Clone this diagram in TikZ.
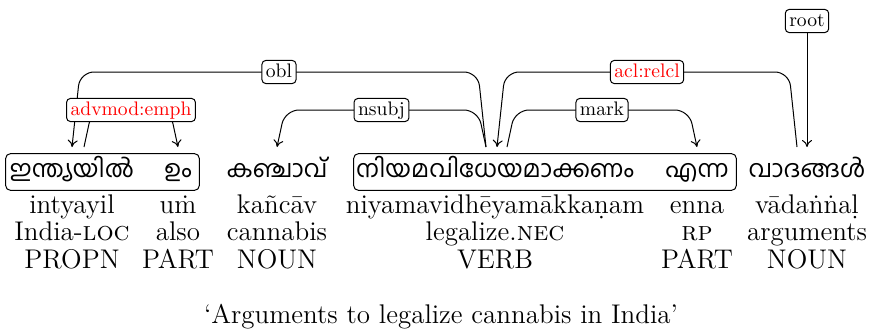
\documentclass[tikz,border=0pt]{standalone}
\usepackage{fontspec}
\newfontfamily\mlfont[Script=Malayalam]{Hind Kochi}
\usetikzlibrary{calc,fit,arrows.meta}
% m with dot above, built from m and the spacing dot accent
\newcommand{\mdotabove}{\ooalign{m\cr\hidewidth\char"02D9\hidewidth\cr}}

\begin{document}
\begin{tikzpicture}[x=0.5pt,y=-0.5pt,
  every node/.style={font=\fontsize{13.5}{16}\selectfont},
  ml/.style={anchor=base, font=\mlfont\fontsize{12}{15}\selectfont,
    text height=9.5pt, text depth=4.5pt, inner xsep=0pt, inner ysep=2pt},
  tok/.style={anchor=base, inner sep=0pt},
  wbox/.style={draw, rounded corners=2.5pt, inner sep=0pt, line width=0.5pt},
  lbl/.style={draw, fill=white, rounded corners=2pt, inner xsep=2pt, inner ysep=1.3pt,
    text height=7pt, text depth=2pt, font=\fontsize{9.8}{11}\selectfont, line width=0.5pt},
  rel/.style={lbl, text=red},
  depedge/.style={draw, line width=0.5pt, rounded corners=7pt,
    -{To[length=3.5pt,width=5pt]}},
  ]
\useasboundingbox (0,0) rectangle (873,332);

% Malayalam tokens
\node[ml, minimum width=66pt] (m1) at (72,177)  {ഇന്ത്യയിൽ};
\node[ml, minimum width=21pt] (m2) at (178,177) {ഉം};
\node[ml] (m3) at (277,177) {കഞ്ചാവ്};
\node[ml, minimum width=141pt] (m4) at (495,177) {നിയമവിധേയമാക്കണം};
\node[ml, minimum width=39pt] (m5) at (697,177) {എന്ന};
\node[ml] (m6) at (807,177) {വാദങ്ങൾ};

% grouped words
\node[wbox, fit=(m1)(m2)] (box1) {};
\node[wbox, fit=(m4)(m5)] (box2) {};

% transliteration
\node[tok] (t1) at (72,213)  {intyayil};
\node[tok] (t2) at (178,213) {u\mdotabove};
\node[tok] (t3) at (277,213) {kañcāv};
\node[tok] (t4) at (495,213) {niyamavidhēyamākkaṇam};
\node[tok] (t5) at (697,213) {enna};
\node[tok] (t6) at (807,213) {vādaṅṅaḷ};

% glosses
\node[tok] (g1) at (72,240)  {India-\textsc{loc}};
\node[tok] (g2) at (178,240) {also};
\node[tok] (g3) at (277,240) {cannabis};
\node[tok] (g4) at (495,240) {legalize.\textsc{nec}};
\node[tok] (g5) at (697,240) {\textsc{rp}};
\node[tok] (g6) at (807,240) {arguments};

% parts of speech
\node[tok] (p1) at (72,268)  {PROPN};
\node[tok] (p2) at (178,268) {PART};
\node[tok] (p3) at (277,268) {NOUN};
\node[tok] (p4) at (495,268) {VERB};
\node[tok] (p5) at (697,268) {PART};
\node[tok] (p6) at (807,268) {NOUN};

% free translation
\node[tok] (tr) at (441,323) {`Arguments to legalize cannabis in India'};

% edge end points above the tokens
\path (m1.base) ++(0,-30) coordinate (m1c) ++(12,0) coordinate (m1r);
\path (m2.base) ++(0,-30) coordinate (m2c);
\path (m3.base) ++(0,-30) coordinate (m3c);
\path (m4.base) ++(2,-30) coordinate (m4c) ++(-11,0) coordinate (m4l) ++(21,0) coordinate (m4r);
\path (m5.base) ++(0,-30) coordinate (m5c);
\path (m6.base) ++(0,-30) coordinate (m6c) ++(-10,0) coordinate (m6l);
\coordinate (lvA) at (0,72);
\coordinate (lvB) at (0,110);

% dependency arcs
\draw[depedge] (m4l) -- ($(m4l |- lvA)+(-8,0)$)
  -- node[lbl] (obl) {obl} ($(m1c |- lvA)+(8,0)$) -- (m1c);
\draw[depedge] (m6l) -- ($(m6l |- lvA)+(-8,0)$)
  -- node[rel] (acl) {acl:relcl} ($(m4c |- lvA)+(8,0)$) -- (m4c);
\draw[depedge] (m4l) -- ($(m4l |- lvB)+(-8,0)$)
  -- node[lbl] (nsubj) {nsubj} ($(m3c |- lvB)+(8,0)$) -- (m3c);
\draw[depedge] (m4r) -- ($(m4r |- lvB)+(8,0)$)
  -- node[lbl] (mark) {mark} ($(m5c |- lvB)+(-8,0)$) -- (m5c);
\draw[depedge] (m1r) -- ($(m1r |- lvB)+(8,0)$)
  -- node[rel] (emph) {advmod:emph} ($(m2c |- lvB)+(-8,0)$) -- (m2c);

% root
\node[lbl] (root) at (m6c |- 0,21) {root};
\draw[depedge] (root) -- (m6c);
\end{tikzpicture}
\end{document}
